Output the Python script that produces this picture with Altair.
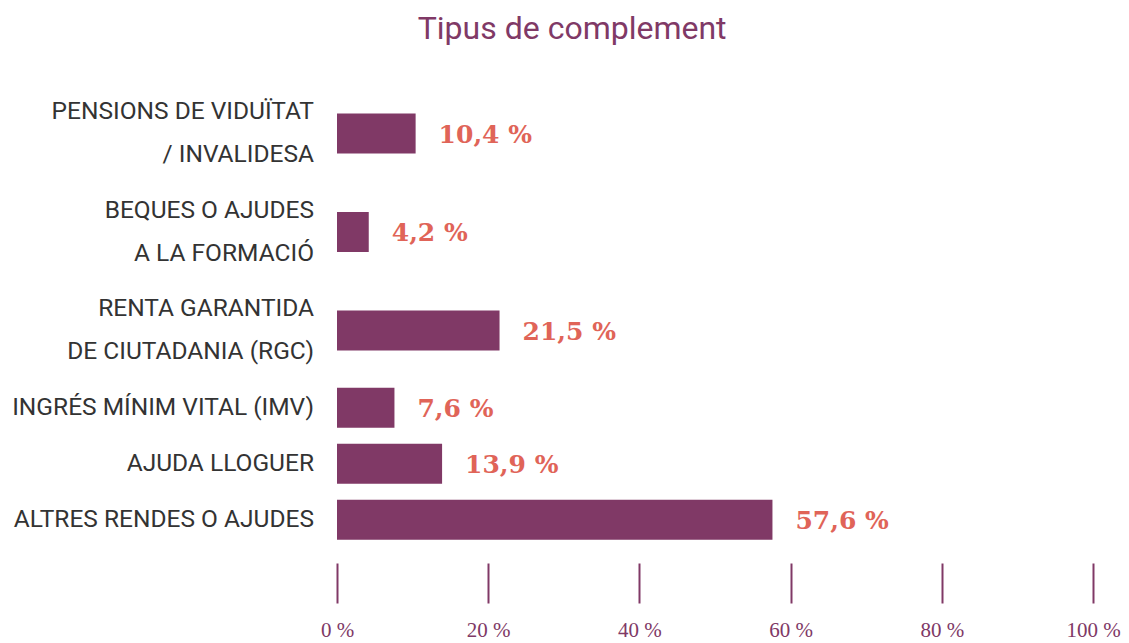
import altair as alt
import pandas as pd

categories = [
    "PENSIONS DE VIDUÏTAT\n/ INVALIDESA",
    "BEQUES O AJUDES\nA LA FORMACIÓ",
    "RENTA GARANTIDA\nDE CIUTADANIA (RGC)",
    "INGRÉS MÍNIM VITAL (IMV)",
    "AJUDA LLOGUER",
    "ALTRES RENDES O AJUDES",
]
values = [10.4, 4.2, 21.5, 7.6, 13.9, 57.6]
tick_values = [0, 20, 40, 60, 80, 100]

PURPLE = "#803966"
RED = "#e06458"
LINE_H = 43

# vertical slot of each row depends on how many text lines its label has
line_counts = [c.count("\n") + 1 for c in categories]
slot = [13.5 + 42.5 * n for n in line_counts]
pos = []
cur = 38.5
for i, s in enumerate(slot):
    if i > 0:
        cur += (slot[i - 1] + s) / 2
    pos.append(cur)
# first line of a multi-line label sits above the row centre
label_pos = [p - (n - 1) * LINE_H / 2 for p, n in zip(pos, line_counts)]

df = pd.DataFrame({"cat": categories, "value": values, "pos": pos, "lpos": label_pos})

H = 468
W = 756

yscale = alt.Scale(domain=[0, H], reverse=True, nice=False, zero=False, padding=0)

bars = alt.Chart(df).mark_bar(orient="horizontal", height=40, color=PURPLE).encode(
    x=alt.X(
        "value:Q",
        scale=alt.Scale(domain=[0, 100], nice=False, padding=0),
        axis=alt.Axis(
            values=tick_values,
            labelExpr="datum.value + ' %'",
            tickSize=40,
            tickWidth=2,
            tickColor=PURPLE,
            domain=False,
            grid=False,
            title=None,
            labelFlush=False,
            labelFont="Liberation Serif",
            labelFontSize=21,
            labelColor=PURPLE,
            labelPadding=16,
        ),
    ),
    y=alt.Y("pos:Q", scale=yscale, axis=None),
)

value_labels = alt.Chart(df).transform_calculate(
    lab="replace(format(datum.value, '.1f'), '.', ',') + ' %'"
).mark_text(
    align="left", baseline="middle", dx=23, dy=1, font="DejaVu Serif",
    fontWeight="bold", fontSize=25, color=RED,
).encode(x="value:Q", y=alt.Y("pos:Q", scale=yscale, axis=None), text="lab:N")

cat_labels = alt.Chart(df).mark_text(
    align="right", baseline="middle", lineBreak="\n", lineHeight=LINE_H,
    font="Roboto", fontSize=24.5, color="#333333",
).encode(x=alt.value(-23), y=alt.Y("lpos:Q", scale=yscale, axis=None), text="cat:N")

chart = (
    alt.layer(bars, value_labels, cat_labels)
    .properties(
        width=W,
        height=H,
        background="white",
        padding={"top": 5, "left": 4, "right": 0, "bottom": 0},
        title=alt.TitleParams(
            "Tipus de complement", font="Roboto", fontSize=32, fontWeight="normal",
            color=PURPLE, anchor="middle", frame="bounds", offset=49, dx=6,
        ),
    )
    .configure_view(strokeWidth=0, stroke="transparent")
)

chart.save("out.html", embed_options={"renderer": "svg", "actions": False})
